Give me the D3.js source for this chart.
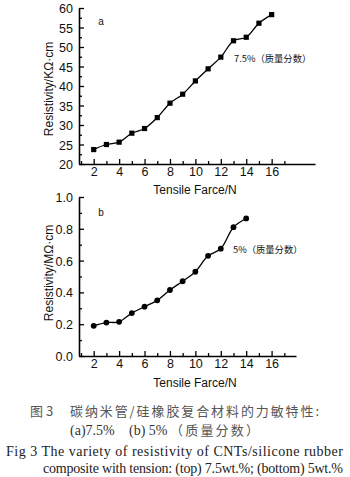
<!DOCTYPE html>
<html>
<head>
<meta charset="utf-8">
<script src="https://cdn.jsdelivr.net/npm/d3@7"></script>
<style>
  html, body { margin: 0; padding: 0; background: #fff; }
  svg { display: block; }
</style>
</head>
<body>
<svg id="chart" width="350" height="477"></svg>
<script>
// Tensile force (N) and resistivity for the two CNT loadings
const forceA = [2, 3, 4, 5, 6, 7, 8, 9, 10, 11, 12, 13, 14, 15, 16];
const resistivityA = [23.7, 25.0, 25.6, 27.9, 29.1, 31.9, 35.6, 37.9, 41.3, 44.4, 47.4, 51.6, 52.5, 56.1, 58.3]; // KΩ·cm

const forceB = [2, 3, 4, 5, 6, 7, 8, 9, 10, 11, 12, 13, 14];
const resistivityB = [0.19, 0.21, 0.215, 0.27, 0.31, 0.35, 0.415, 0.47, 0.53, 0.63, 0.675, 0.81, 0.865]; // MΩ·cm

const xTicks = [2, 4, 6, 8, 10, 12, 14, 16];
const xMinorTicks = [1, 3, 5, 7, 9, 11, 13, 15, 17];
const yTicksA = [20, 25, 30, 35, 40, 45, 50, 55, 60];
const yMinorTicksA = [22.5, 27.5, 32.5, 37.5, 42.5, 47.5, 52.5, 57.5];
const yTicksB = [0.0, 0.2, 0.4, 0.6, 0.8, 1.0];
const yMinorTicksB = [0.1, 0.3, 0.5, 0.7, 0.9];

const svg = d3.select("#chart");
const sans = "'Liberation Sans', Arial, sans-serif";
const cjk = "'Noto Sans CJK SC', sans-serif";
const serif = "'Liberation Serif', 'Times New Roman', serif";

function panel(cfg) {
  const g = svg.append("g");
  const x = d3.scaleLinear().domain(cfg.xDomain).range([cfg.left, cfg.right]);
  const y = d3.scaleLinear().domain(cfg.yDomain).range([cfg.bottom, cfg.top]);

  // minor ticks (inward)
  g.append("g").attr("transform", `translate(0,${cfg.bottom})`)
    .call(d3.axisBottom(x).tickValues(xMinorTicks).tickSizeInner(-3).tickSizeOuter(0).tickFormat(""))
    .call(a => a.select(".domain").remove());
  g.append("g").attr("transform", `translate(${cfg.left},0)`)
    .call(d3.axisLeft(y).tickValues(cfg.yMinor).tickSizeInner(-3).tickSizeOuter(0).tickFormat(""))
    .call(a => a.select(".domain").remove());

  // major axes
  const xa = g.append("g").attr("transform", `translate(0,${cfg.bottom})`)
    .call(d3.axisBottom(x).tickValues(xTicks).tickSizeInner(-5).tickSizeOuter(0).tickPadding(3).tickFormat(d3.format("d")));
  const ya = g.append("g").attr("transform", `translate(${cfg.left},0)`)
    .call(d3.axisLeft(y).tickValues(cfg.yTicks).tickSizeInner(-5).tickSizeOuter(0).tickPadding(6).tickFormat(cfg.yFormat));

  g.selectAll(".tick line").attr("stroke", "#000").attr("stroke-width", 1.3);
  g.selectAll(".domain").attr("stroke", "#000").attr("stroke-width", 1.6);
  g.selectAll(".tick text").attr("fill", "#111").attr("font-family", sans).attr("font-size", 12.5);
  xa.selectAll(".tick text").attr("dy", "0.75em");
  ya.selectAll(".tick text").attr("dy", "0.36em");

  // axis titles
  g.append("text")
    .attr("x", 195).attr("y", cfg.xTitleY)
    .attr("text-anchor", "middle").attr("font-family", sans).attr("font-size", 12).attr("fill", "#111")
    .text("Tensile Farce/N");
  g.append("text")
    .attr("transform", `translate(53,${cfg.yTitleCenter}) rotate(-90)`)
    .attr("text-anchor", "middle").attr("font-family", sans).attr("font-size", 12).attr("fill", "#111")
    .text(cfg.yTitle);

  // curve through the measured points
  const line = d3.line().x((d, i) => x(cfg.xs[i])).y(d => y(d)).curve(d3.curveCatmullRom.alpha(0.5));
  g.append("path").datum(cfg.ys).attr("d", line)
    .attr("fill", "none").attr("stroke", "#000").attr("stroke-width", 1.3);

  if (cfg.marker === "square") {
    g.selectAll("rect.pt").data(cfg.ys).join("rect").attr("class", "pt")
      .attr("x", (d, i) => x(cfg.xs[i]) - 2.6).attr("y", d => y(d) - 2.6)
      .attr("width", 5.2).attr("height", 5.2).attr("fill", "#000");
  } else {
    g.selectAll("circle.pt").data(cfg.ys).join("circle").attr("class", "pt")
      .attr("cx", (d, i) => x(cfg.xs[i])).attr("cy", d => y(d)).attr("r", 2.9).attr("fill", "#000");
  }

  // panel letter and series note
  g.append("text").attr("x", 101).attr("y", cfg.letterY)
    .attr("text-anchor", "middle").attr("font-family", sans).attr("font-size", 10).attr("fill", "#111")
    .text(cfg.letter);
  g.append("text").attr("x", cfg.noteX).attr("y", cfg.noteY)
    .attr("font-family", cjk).attr("font-size", 9.3).attr("fill", "#111")
    .text(cfg.note);
}

panel({
  xDomain: [0.843, 19.41], left: 79, right: 315,
  yDomain: [20, 60], top: 8, bottom: 164,
  yTicks: yTicksA, yMinor: yMinorTicksA, yFormat: d3.format("d"),
  xs: forceA, ys: resistivityA, marker: "square",
  yTitle: "Resistivity/KΩ·cm", yTitleCenter: 89, xTitleY: 194,
  letter: "a", letterY: 25, note: "7.5%（质量分数）", noteX: 234, noteY: 61.5
});

panel({
  xDomain: [0.843, 17.92], left: 79, right: 296,
  yDomain: [0, 1], top: 197, bottom: 356,
  yTicks: yTicksB, yMinor: yMinorTicksB, yFormat: d3.format(".1f"),
  xs: forceB, ys: resistivityB, marker: "circle",
  yTitle: "Resistivity/MΩ·cm", yTitleCenter: 273, xTitleY: 387,
  letter: "b", letterY: 216, note: "5%（质量分数）", noteX: 233, noteY: 252.5
});

// figure caption
const cap = svg.append("g");
cap.append("text").attr("x", 30).attr("y", 416)
  .attr("font-family", cjk).attr("font-size", 13).attr("fill", "#555")
  .text("图 3");
cap.append("text").attr("x", 70).attr("y", 416)
  .attr("font-family", cjk).attr("font-size", 13).attr("fill", "#555")
  .attr("textLength", 249).attr("lengthAdjust", "spacing")
  .text("碳纳米管/硅橡胶复合材料的力敏特性:");
cap.append("text").attr("x", 70).attr("y", 434.5)
  .attr("font-family", serif).attr("font-size", 14).attr("fill", "#333")
  .text("(a)7.5%");
cap.append("text").attr("x", 129).attr("y", 434.5)
  .attr("font-family", serif).attr("font-size", 14).attr("fill", "#333")
  .text("(b) 5%");
cap.append("text").attr("x", 170).attr("y", 434.5)
  .attr("font-family", cjk).attr("font-size", 13).attr("fill", "#555")
  .attr("textLength", 89).attr("lengthAdjust", "spacing")
  .text("（质量分数）");
cap.append("text").attr("x", 6).attr("y", 456)
  .attr("font-family", serif).attr("font-size", 14).attr("fill", "#222")
  .attr("textLength", 337).attr("lengthAdjust", "spacing")
  .text("Fig 3 The variety of resistivity of CNTs/silicone rubber");
cap.append("text").attr("x", 43).attr("y", 472.5)
  .attr("font-family", serif).attr("font-size", 14).attr("fill", "#222")
  .attr("textLength", 300).attr("lengthAdjust", "spacing")
  .text("composite with tension: (top) 7.5wt.%; (bottom) 5wt.%");
</script>
</body>
</html>
